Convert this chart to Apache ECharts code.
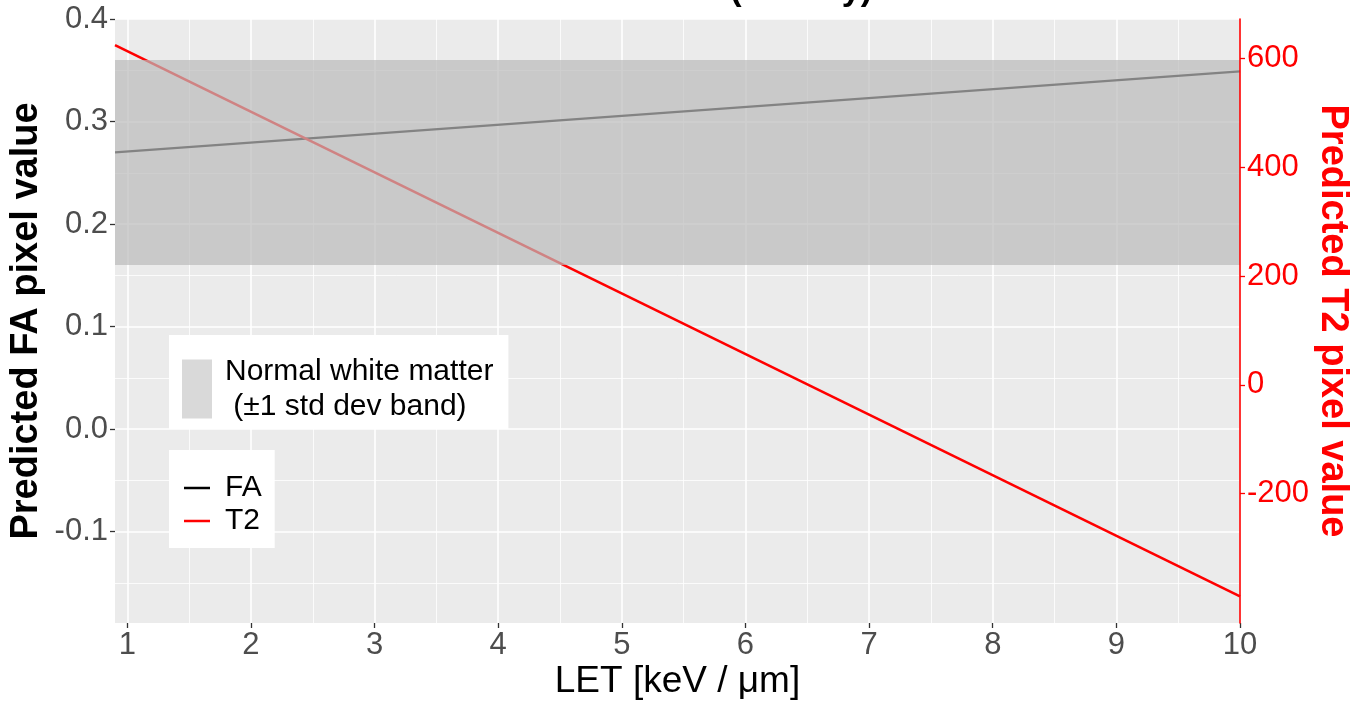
<!DOCTYPE html>
<html><head><meta charset="utf-8">
<script src="https://cdn.jsdelivr.net/npm/echarts@6/dist/echarts.min.js"></script>
<style>html,body{margin:0;padding:0;background:#fff}#c{width:1361px;height:704px}</style>
</head><body><div id="c"></div>
<script>
// ---- data ----
const titleText = 'White matter (healthy)';
const letX = [0.9, 10];
const faValues = [0.27, 0.349];
const t2Values = [625, -389];
const bandFA = [0.16, 0.36];
const xRange = [0.9, 10];
const yLeftRange = [-0.189, 0.4];
const yRightRange = [-438, 673];
const xTicks = [1, 2, 3, 4, 5, 6, 7, 8, 9, 10];
const xMinor = [1.5, 2.5, 3.5, 4.5, 5.5, 6.5, 7.5, 8.5, 9.5];
const yLeftTicks = [-0.1, 0, 0.1, 0.2, 0.3, 0.4];
const yLeftMinor = [-0.15, -0.05, 0.05, 0.15, 0.25, 0.35];
const yRightTicks = [-200, 0, 200, 400, 600];
const bandName = 'Normal white matter\n (\u00b11 std dev band)';

const FF = '"Liberation Sans", Arial, sans-serif';
const chart = echarts.init(document.getElementById('c'), null, {renderer: 'canvas'});

const gridLines = [];
xTicks.forEach(v => gridLines.push({xAxis: v, lineStyle: {width: 1.6}}));
xMinor.forEach(v => gridLines.push({xAxis: v, lineStyle: {width: 0.8}}));
yLeftTicks.forEach(v => gridLines.push({yAxis: v, lineStyle: {width: 1.6}}));
yLeftMinor.forEach(v => gridLines.push({yAxis: v, lineStyle: {width: 0.8}}));

chart.setOption({
  animation: false,
  title: {
    text: titleText, right: 489, top: -26, padding: 0,
    textStyle: {fontFamily: FF, fontSize: 34, fontWeight: 'bold', color: '#000'}
  },
  grid: {left: 115, right: 121, top: 19, bottom: 81, show: true,
         backgroundColor: '#ebebeb', borderWidth: 0, containLabel: false,
         outerBoundsMode: 'none'},
  legend: [
    {
      data: [bandName], left: 169, top: 335, orient: 'vertical',
      backgroundColor: '#fff', padding: [19, 15, 5, 13], icon: 'rect',
      itemWidth: 30, itemHeight: 59, selectedMode: false,
      textStyle: {fontFamily: FF, fontSize: 30, lineHeight: 35, color: '#000', padding: [0, 0, 0, 8]}
    },
    {
      data: ['FA', 'T2'], left: 169, top: 450, orient: 'vertical',
      backgroundColor: '#fff', padding: [23, 13, 12, 15], icon: 'rect',
      itemWidth: 26, itemHeight: 2.5, itemGap: 3, selectedMode: false,
      textStyle: {fontFamily: FF, fontSize: 30, lineHeight: 30, color: '#000', padding: [0, 0, 0, 10]}
    }
  ],
  xAxis: {
    type: 'value', min: xRange[0], max: xRange[1],
    name: 'LET [keV / \u03bcm]', nameLocation: 'middle', nameGap: 40, nameMoveOverlap: false,
    nameTextStyle: {fontFamily: FF, fontSize: 37, color: '#000'},
    axisLine: {show: false, onZero: false},
    axisTick: {show: true, customValues: xTicks, length: 5, lineStyle: {color: '#333', width: 1.3}},
    axisLabel: {customValues: xTicks, fontFamily: FF, fontSize: 31, color: '#4d4d4d', margin: 7},
    splitLine: {show: false}
  },
  yAxis: [
    {
      type: 'value', min: yLeftRange[0], max: yLeftRange[1], position: 'left',
      name: 'Predicted FA pixel value', nameLocation: 'middle', nameGap: 69, nameMoveOverlap: false,
      nameTextStyle: {fontFamily: FF, fontSize: 38, fontWeight: 'bold', color: '#000'},
      axisLine: {show: false, onZero: false},
      axisTick: {show: true, customValues: yLeftTicks, length: 5, lineStyle: {color: '#333', width: 1.3}},
      axisLabel: {customValues: yLeftTicks, fontFamily: FF, fontSize: 31, color: '#4d4d4d', margin: 7,
                  formatter: v => v.toFixed(1)},
      splitLine: {show: false}
    },
    {
      type: 'value', min: yRightRange[0], max: yRightRange[1], position: 'right', z: 6,
      name: 'Predicted T2 pixel value', nameLocation: 'middle', nameGap: 73, nameRotate: -90,
      nameMoveOverlap: false,
      nameTextStyle: {fontFamily: FF, fontSize: 38, fontWeight: 'bold', color: '#ff0000'},
      axisLine: {show: true, onZero: false, lineStyle: {color: '#ff0000', width: 1.6}},
      axisTick: {show: true, customValues: yRightTicks, length: 5, lineStyle: {color: '#ff0000', width: 1.3}},
      axisLabel: {customValues: yRightTicks, fontFamily: FF, fontSize: 31, color: '#ff0000', margin: 7},
      splitLine: {show: false}
    }
  ],
  series: [
    {
      name: 'grid', type: 'line', data: [], z: 1, silent: true,
      markLine: {z: 1, silent: true, symbol: 'none', label: {show: false},
                 lineStyle: {color: '#ffffff', type: 'solid'}, data: gridLines}
    },
    {
      name: 'FA', type: 'line', yAxisIndex: 0, z: 2, color: '#000000', showSymbol: false,
      lineStyle: {width: 2.2, color: '#000000'},
      data: letX.map((x, i) => [x, faValues[i]])
    },
    {
      name: 'T2', type: 'line', yAxisIndex: 1, z: 2, color: '#ff0000', showSymbol: false,
      lineStyle: {width: 2.6, color: '#ff0000'},
      data: letX.map((x, i) => [x, t2Values[i]])
    },
    {
      name: bandName, type: 'line', yAxisIndex: 0, z: 3, color: '#d9d9d9', data: [],
      markArea: {z: 3, silent: true, itemStyle: {color: 'rgba(186,186,186,0.7)'},
                 data: [[{yAxis: bandFA[0]}, {yAxis: bandFA[1]}]]}
    }
  ]
});
</script></body></html>
